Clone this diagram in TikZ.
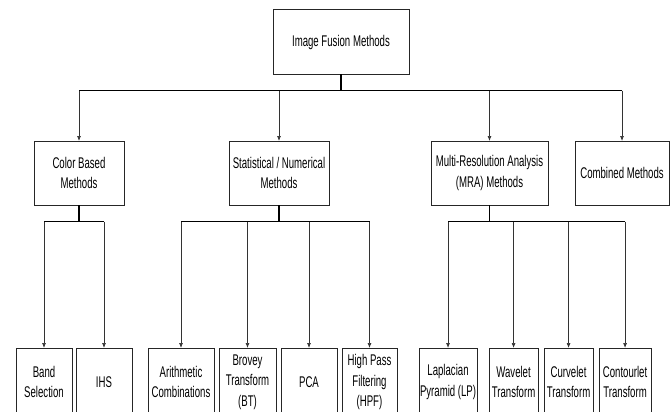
\documentclass[tikz,border=0pt]{standalone}
\usepackage{fontspec}
\setmainfont{Liberation Sans}[FakeStretch=0.62]
\usepackage{tikz}
\usetikzlibrary{arrows.meta,positioning}

\begin{document}
\begin{tikzpicture}[
    x=1pt, y=-1pt,
    box/.style={rectangle, draw=black!85, line width=0.9pt, fill=white, align=center, inner sep=1pt, outer sep=0pt, font=\fontsize{15.5}{20.5}\selectfont},
    root/.style={box, minimum width=136pt, minimum height=65pt},
    group/.style={box, minimum height=64pt},
    method/.style={box, minimum height=68pt},
    bus/.style={line width=1.1pt, black},
    arrow/.style={-{Latex[length=5pt,width=4pt]}, line width=0.7pt, black!80}
]
\useasboundingbox (0,0) rectangle (672,412);
\clip (0,0) rectangle (672,412);

% Top level
\node[root] (fusion) at (341,42) {Image Fusion Methods};

% Method groups
\node[group, minimum width=90pt] (color) at (79,173) {Color Based\\Methods};
\node[group, minimum width=100pt, right=105pt of color] (stat) {Statistical / Numerical\\Methods};
\node[group, minimum width=117pt, right=102pt of stat] (mra) {Multi-Resolution Analysis\\(MRA) Methods};
\node[group, minimum width=94pt, right=27pt of mra] (comb) {Combined Methods};

% Single methods
\node[method, minimum width=56pt] (band) at (44,382) {Band\\Selection};
\node[method, minimum width=56pt, right=4pt of band] (ihs) {IHS};
\node[method, minimum width=66pt, right=16pt of ihs] (arith) {Arithmetic\\Combinations};
\node[method, minimum width=57pt, right=5pt of arith] (brovey) {Brovey\\Transform\\(BT)};
\node[method, minimum width=56pt, right=5pt of brovey] (pca) {PCA};
\node[method, minimum width=55pt, right=5pt of pca] (hpf) {High Pass\\Filtering\\(HPF)};
\node[method, minimum width=56pt, right=22pt of hpf] (lap) {Laplacian\\Pyramid (LP)};
\node[method, minimum width=49pt, right=12pt of lap] (wave) {Wavelet\\Transform};
\node[method, minimum width=49pt, right=6pt of wave] (curve) {Curvelet\\Transform};
\node[method, minimum width=52pt, right=6pt of curve] (contour) {Contourlet\\Transform};

% Connections, level 1
\draw[bus] (fusion.south) -- ++(0,16) coordinate (b0);
\draw[bus] (b0 -| color) -- (b0 -| comb);
\foreach \c in {color,stat,mra,comb}
    \draw[arrow] (b0 -| \c.north) -- (\c.north);

% Connections, level 2
\draw[bus] (color.south) -- ++(0,16.5) coordinate (b1);
\draw[bus] (b1 -| band) -- (b1 -| ihs);
\foreach \c in {band,ihs}
    \draw[arrow] (b1 -| \c.north) -- (\c.north);

\draw[bus] (stat.south) -- ++(0,16.5) coordinate (b2);
\draw[bus] (b2 -| arith) -- (b2 -| hpf);
\foreach \c in {arith,brovey,pca,hpf}
    \draw[arrow] (b2 -| \c.north) -- (\c.north);

\draw[bus] (mra.south) -- ++(0,16.5) coordinate (b3);
\draw[bus] (b3 -| lap) -- (b3 -| contour);
\foreach \c in {lap,wave,curve,contour}
    \draw[arrow] (b3 -| \c.north) -- (\c.north);

\end{tikzpicture}
\end{document}
